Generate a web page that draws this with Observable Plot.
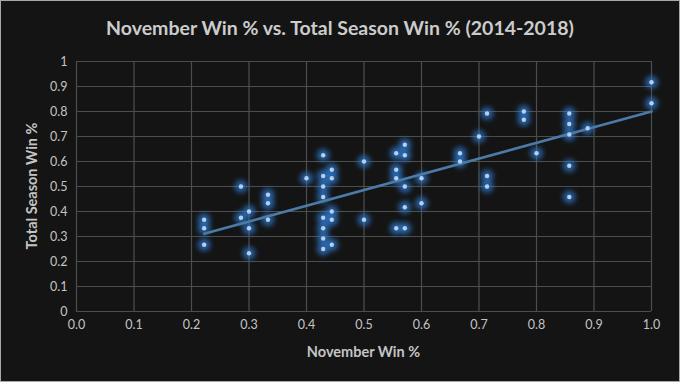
<!DOCTYPE html>
<html><head><meta charset="utf-8">
<script src="https://cdn.jsdelivr.net/npm/d3@7"></script>
<script src="https://cdn.jsdelivr.net/npm/@observablehq/plot@0.6"></script>
<style>
html,body{margin:0;padding:0;background:#141414;}
svg{display:block;}
</style></head><body><div id="chart"></div>
<script>
const title = "November Win % vs. Total Season Win % (2014-2018)";
const xLabel = "November Win %";
const yLabel = "Total Season Win %";
const novemberWin = [
  0.222,0.222,0.222,
  0.286,0.286,
  0.3,0.3,0.3,
  0.333,0.333,0.333,
  0.4,
  0.429,0.429,0.429,0.429,0.429,0.429,0.429,0.429,
  0.444,0.444,0.444,0.444,0.444,
  0.5,0.5,
  0.556,0.556,0.556,0.556,
  0.571,0.571,0.571,0.571,0.571,
  0.6,0.6,
  0.667,0.667,
  0.7,
  0.714,0.714,0.714,
  0.778,0.778,
  0.8,
  0.857,0.857,0.857,0.857,0.857,
  0.889,
  1.0,1.0
];
const seasonWin = [
  0.367,0.333,0.267,
  0.5,0.375,
  0.4,0.333,0.233,
  0.467,0.433,0.367,
  0.533,
  0.625,0.542,0.5,0.458,0.375,0.333,0.292,0.25,
  0.567,0.533,0.4,0.367,0.267,
  0.6,0.367,
  0.633,0.567,0.533,0.333,
  0.667,0.625,0.5,0.417,0.333,
  0.533,0.433,
  0.633,0.6,
  0.7,
  0.792,0.542,0.5,
  0.8,0.767,
  0.633,
  0.792,0.75,0.708,0.583,0.458,
  0.733,
  0.917,0.833
];
const xTicks = [0,0.1,0.2,0.3,0.4,0.5,0.6,0.7,0.8,0.9,1.0];
const yTicks = [0,0.1,0.2,0.3,0.4,0.5,0.6,0.7,0.8,0.9,1];

const data = novemberWin.map((x, i) => ({x, y: seasonWin[i]}));

const W = 680, H = 382;
const FONT = "Lato, 'Open Sans', sans-serif";
const plot = Plot.plot({
  width: W, height: H,
  marginLeft: 76, marginRight: 29, marginTop: 61, marginBottom: 71,
  style: {background: "#141414", color: "#c4c4c4", fontFamily: FONT, fontSize: "12.5px"},
  x: {domain: [0, 1], ticks: xTicks, tickFormat: d3.format(".1f"), label: null, tickSize: 0, tickPadding: 9},
  y: {domain: [0, 1], ticks: yTicks, tickFormat: d3.format("~g"), label: null, tickSize: 0, tickPadding: 9},
  marks: [
    Plot.gridX(xTicks, {stroke: "#4d4d4d", strokeOpacity: 1, strokeWidth: 1.2}),
    Plot.gridY(yTicks, {stroke: "#4d4d4d", strokeOpacity: 1, strokeWidth: 1.2}),
    Plot.dot(data, {x: "x", y: "y", r: 6.5, fill: "#2f7ad0", fillOpacity: 0.7, stroke: "none"}),
    Plot.linearRegressionY(data, {x: "x", y: "y", stroke: "#4a7ba8", strokeWidth: 2.6, ci: 0}),
    Plot.dot(data, {x: "x", y: "y", r: 2.2, fill: "#b4d0ee", stroke: "none"})
  ]
});
const svg = d3.select(plot);
// glow filter
const defs = svg.insert("defs", ":first-child");
const f = defs.append("filter").attr("id", "glow").attr("x", "-50%").attr("y", "-50%").attr("width", "200%").attr("height", "200%");
f.append("feGaussianBlur").attr("stdDeviation", 2.4);
const dotGroups = svg.selectAll("g[aria-label='dot']").nodes();
if (dotGroups.length) d3.select(dotGroups[0]).attr("filter", "url(#glow)");
// title and axis labels
svg.append("text").text(title)
  .attr("x", W / 2).attr("y", 35).attr("text-anchor", "middle")
  .attr("fill", "#cccccc").attr("font-size", 19.5).attr("font-weight", "bold")
  .attr("font-family", FONT);
svg.append("text").text(xLabel)
  .attr("x", (76 + 651) / 2).attr("y", 357).attr("text-anchor", "middle")
  .attr("fill", "#c4c4c4").attr("font-size", 14.5).attr("font-weight", "bold")
  .attr("font-family", FONT);
svg.append("text").text(yLabel)
  .attr("transform", `translate(37,${(61 + 311) / 2}) rotate(-90)`).attr("text-anchor", "middle")
  .attr("fill", "#c4c4c4").attr("font-size", 14.5).attr("font-weight", "bold")
  .attr("font-family", FONT);
svg.append("rect").attr("x", 0.5).attr("y", 0.5).attr("width", W - 1).attr("height", H - 1)
  .attr("fill", "none").attr("stroke", "#a8a8a8").attr("stroke-width", 1);
document.getElementById("chart").appendChild(plot);
</script></body></html>
